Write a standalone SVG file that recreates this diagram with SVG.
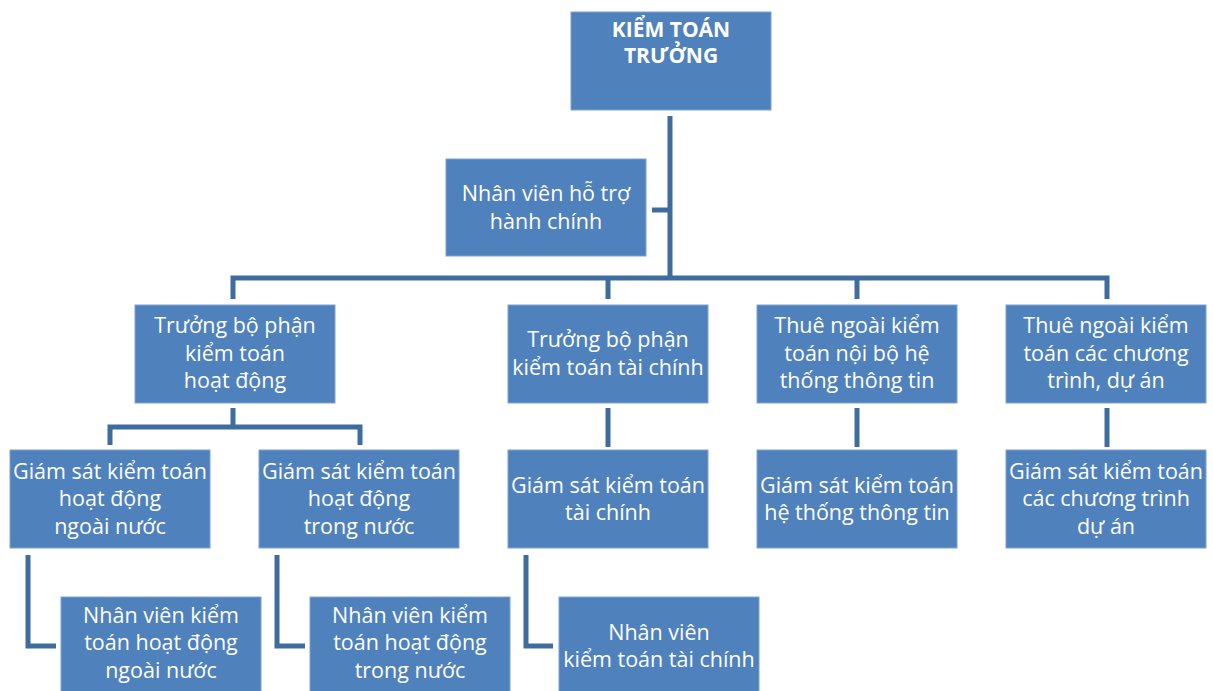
<svg xmlns="http://www.w3.org/2000/svg" width="1213" height="691" viewBox="0 0 1213 691">
<style>
.box{fill:#4F81BD;stroke:#7EA2CF;stroke-width:1}
.t{font-family:"Open Sans","Liberation Sans",sans-serif;font-size:21.5px;fill:#FFFFFF;text-anchor:middle}
.tb{font-weight:bold;font-size:21px}
.c{fill:none;stroke:#3E6C9F;stroke-width:5}
</style>
<rect width="1213" height="691" fill="#FFFFFF"/>
<g id="connectors">
<path class="c" d="M670,116 V278"/>
<path class="c" d="M652,210 H670"/>
<path class="c" d="M233,299 V278 H1107 V299"/>
<path class="c" d="M608,278 V299"/>
<path class="c" d="M857,278 V299"/>
<path class="c" d="M233,408 V427"/>
<path class="c" d="M110,445 V427 H360 V445"/>
<path class="c" d="M608,408 V447"/>
<path class="c" d="M857,408 V447"/>
<path class="c" d="M1107,408 V447"/>
<path class="c" d="M28,555 V646 H56"/>
<path class="c" d="M277,555 V646 H305"/>
<path class="c" d="M526,555 V646 H553"/>
</g>
<g id="n_top"><rect class="box" x="571" y="12" width="200" height="98"/>
<text class="t tb" x="671" y="37">KIỂM TOÁN</text><text class="t tb" x="671" y="63">TRƯỞNG</text></g>
<g id="n_admin"><rect class="box" x="446" y="159" width="200" height="97"/>
<text class="t" x="546" y="201">Nhân viên hỗ trợ</text><text class="t" x="546" y="229">hành chính</text></g>
<g id="n_hd"><rect class="box" x="135" y="305" width="200" height="98"/>
<text class="t" x="235" y="333">Trưởng bộ phận</text><text class="t" x="235" y="361">kiểm toán</text><text class="t" x="235" y="388">hoạt động</text></g>
<g id="n_tc"><rect class="box" x="508" y="305" width="200" height="98"/>
<text class="t" x="608" y="347">Trưởng bộ phận</text><text class="t" x="608" y="375">kiểm toán tài chính</text></g>
<g id="n_httt"><rect class="box" x="757" y="305" width="200" height="98"/>
<text class="t" x="857" y="333">Thuê ngoài kiểm</text><text class="t" x="857" y="361">toán nội bộ hệ</text><text class="t" x="857" y="388">thống thông tin</text></g>
<g id="n_ctda"><rect class="box" x="1006" y="305" width="200" height="98"/>
<text class="t" x="1106" y="333">Thuê ngoài kiểm</text><text class="t" x="1106" y="361">toán các chương</text><text class="t" x="1106" y="388">trình, dự án</text></g>
<g id="n_gs_nn"><rect class="box" x="10" y="450" width="200" height="98"/>
<text class="t" x="110" y="479">Giám sát kiểm toán</text><text class="t" x="110" y="506">hoạt động</text><text class="t" x="110" y="534">ngoài nước</text></g>
<g id="n_gs_tn"><rect class="box" x="259" y="450" width="200" height="98"/>
<text class="t" x="359" y="479">Giám sát kiểm toán</text><text class="t" x="359" y="506">hoạt động</text><text class="t" x="359" y="534">trong nước</text></g>
<g id="n_gs_tc"><rect class="box" x="508" y="450" width="200" height="98"/>
<text class="t" x="608" y="493">Giám sát kiểm toán</text><text class="t" x="608" y="520">tài chính</text></g>
<g id="n_gs_httt"><rect class="box" x="757" y="450" width="200" height="98"/>
<text class="t" x="857" y="493">Giám sát kiểm toán</text><text class="t" x="857" y="520">hệ thống thông tin</text></g>
<g id="n_gs_ctda"><rect class="box" x="1006" y="450" width="200" height="98"/>
<text class="t" x="1106" y="479">Giám sát kiểm toán</text><text class="t" x="1106" y="506">các chương trình</text><text class="t" x="1106" y="534">dự án</text></g>
<g id="n_nv_nn"><rect class="box" x="61" y="597" width="200" height="98"/>
<text class="t" x="161" y="623">Nhân viên kiểm</text><text class="t" x="161" y="650">toán hoạt động</text><text class="t" x="161" y="678">ngoài nước</text></g>
<g id="n_nv_tn"><rect class="box" x="310" y="597" width="200" height="98"/>
<text class="t" x="410" y="623">Nhân viên kiểm</text><text class="t" x="410" y="650">toán hoạt động</text><text class="t" x="410" y="678">trong nước</text></g>
<g id="n_nv_tc"><rect class="box" x="559" y="597" width="200" height="98"/>
<text class="t" x="659" y="640">Nhân viên</text><text class="t" x="659" y="667">kiểm toán tài chính</text></g>
</svg>
